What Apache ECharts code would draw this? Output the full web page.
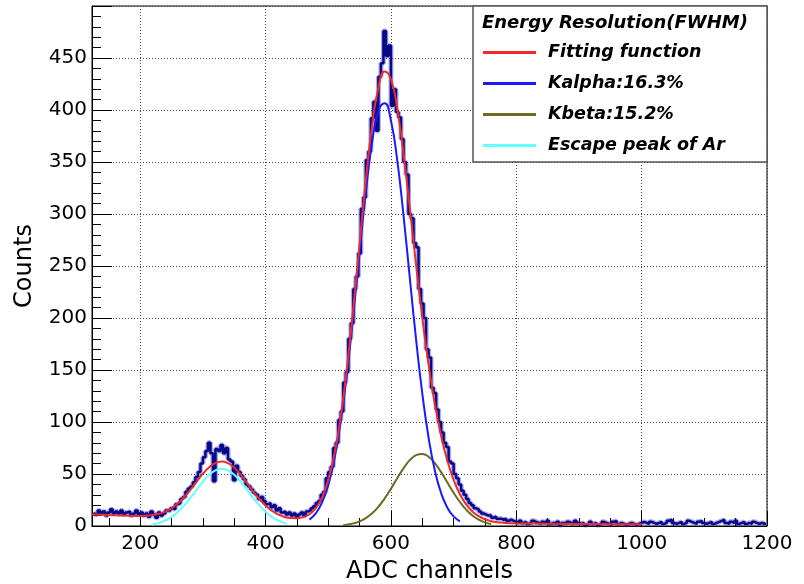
<!DOCTYPE html>
<html><head><meta charset="utf-8">
<script src="https://cdn.jsdelivr.net/npm/echarts@6/dist/echarts.min.js"></script>
<style>html,body{margin:0;padding:0;background:#fff}#c{width:804px;height:584px}</style>
</head><body><div id="c"></div>
<script>
// ---- axis ranges / tick settings ----
const xMin = 123, xMax = 1200, xMajorStep = 200, xMinorStep = 50;
const yMin = 0, yMax = 500, yMajorStep = 50;

// ---- histogram (ADC spectrum): first bin centre 126, bin width 4 channels ----
const binStart = 126, binWidth = 4;
const counts = [
  13,11,15,12,14,10,13,16,12,14,
  12,15,11,13,14,10,12,15,11,13,
  10,12,9,14,11,8,13,10,12,15,
  15,17,16,21,22,26,28,33,36,38,
  42,47,52,60,66,72,80,70,43,74,
  72,78,70,75,64,62,44,58,52,48,
  45,40,38,35,32,30,26,28,24,21,
  22,18,20,15,17,13,14,11,13,10,
  12,9,11,13,10,14,15,17,19,22,
  24,30,33,46,52,57,75,80,102,110,
  138,148,180,195,228,240,262,305,316,352,
  360,392,408,380,432,445,476,452,462,404,
  420,398,393,372,350,338,300,296,272,268,
  228,214,200,170,162,133,128,112,100,90,
  80,76,62,60,50,46,40,34,30,26,
  22,20,17,16,14,12,11,10,10,8,
  9,7,7,6,7,5,6,5,
  4,3,5,3,4,2,3,5,4,3,
  2,4,3,5,2,3,2,4,1,3,
  2,4,3,2,5,3,2,3,1,2,
  4,2,3,1,2,4,3,2,1,4,
  5,2,3,2,1,2,3,2,1,2,
  3,4,3,2,4,3,2,3,4,2,
  3,5,6,3,2,3,4,2,3,5,
  4,3,2,4,5,3,2,3,4,2,
  3,4,5,6,3,2,4,3,5,2,
  3,4,2,3,2,4,3,2,3,2,3
];

// ---- total fit function ----
const fitChannels = [123,130,140,150,160,170,180,190,200,210,220,230,240,250,260,270,280,290,300,310,320,330,340,350,360,370,380,390,400,410,420,430,440,450,460,470,480,490,500,510,520,530,540,550,560,570,580,590,600,610,620,630,640,650,660,670,680,690,700,710,720,730,740,750,760,770,780,790,800,850,900,950,1000];
const fitCounts   = [11.1,11.0,10.7,10.5,10.3,10.1,9.9,9.7,9.6,10.0,10.5,11.8,13.9,17.2,21.8,27.9,34.9,42.7,50.3,56.6,60.7,62.1,60.4,56.0,49.4,41.5,33.3,26.0,19.6,14.7,11.1,8.7,7.6,7.5,8.6,11.3,17.2,27.4,44.7,70.0,106.0,153.3,210.0,271.9,333.0,385.4,421.7,436.9,429.5,401.4,357.9,305.9,251.6,200.4,155.1,117.2,86.8,62.7,44.3,30.6,20.8,13.9,9.4,6.5,4.6,3.6,3.1,2.7,2.5,2.2,2.0,1.8,1.6];

// ---- K-alpha component ----
const kaChannels = [470,480,490,500,510,520,530,540,550,560,570,580,590,600,610,620,630,640,650,660,670,680,690,700,710];
const kaCounts   = [6.1,12.1,22.4,39.3,64.9,100.8,147.5,203.1,263.2,321.2,369.1,399.2,406.5,389.7,351.7,298.8,239.0,179.9,127.6,85.1,53.5,31.7,17.6,9.2,4.5];

// ---- K-beta component ----
const kbChannels = [524,530,540,550,560,570,580,590,600,610,620,630,640,650,660,670,680,690,700,710,720,730,740,750,760];
const kbCounts   = [1.0,1.3,2.5,4.4,7.6,12.2,18.5,26.5,35.9,45.9,55.4,63.3,68.1,69.3,66.6,60.4,51.8,41.9,32.0,23.1,15.7,10.1,6.2,3.5,1.9];

// ---- Ar escape peak component ----
const escChannels = [218,220,230,240,250,260,270,280,290,300,310,320,330,340,350,360,370,380,390,400,410,420,430,434];
const escCounts   = [1.3,1.5,3.0,5.3,8.8,13.6,19.8,27.0,35.0,42.8,49.2,53.5,55.0,53.5,49.2,42.8,35.0,27.0,19.8,13.6,8.8,5.3,3.0,2.3];

const legendTitle = 'Energy Resolution(FWHM)';
const names = ['Fitting function','Kalpha:16.3%','Kbeta:15.2%','Escape peak of Ar'];
const xTitle = 'ADC channels', yTitle = 'Counts';

const zip = (xs, ys) => xs.map((x, i) => [x, ys[i]]);
const histData = counts.map((v, i) => [binStart + i * binWidth, v]);

const axisFont = 'DejaVu Sans';
const legFont = 'DejaVu Sans';
const plain = v => String(v);

const chart = echarts.init(document.getElementById('c'), null, {renderer: 'canvas'});
const option = {
  animation: false,
  backgroundColor: '#ffffff',
  grid: {left: 92, right: 37, top: 6, bottom: 58, containLabel: false, outerBoundsMode: 'none',
         show: true, borderColor: '#000', borderWidth: 1, backgroundColor: 'transparent'},
  xAxis: [{
    type: 'value', min: xMin, max: xMax, minInterval: xMajorStep, maxInterval: xMajorStep,
    axisLine: {show: true, onZero: false, lineStyle: {color: '#000', width: 1}},
    axisTick: {show: true, inside: true, length: 15, lineStyle: {color: '#000', width: 1}},
    axisLabel: {showMinLabel: false, formatter: plain, color: '#000', fontFamily: axisFont, fontSize: 20, margin: 8},
    splitLine: {show: true, lineStyle: {color: '#444', type: [1, 2], width: 1}},
    name: xTitle, nameLocation: 'middle', nameGap: 34,
    nameTextStyle: {color: '#000', fontFamily: axisFont, fontSize: 24}
  }, {
    type: 'value', min: xMin, max: xMax, minInterval: xMinorStep, maxInterval: xMinorStep, position: 'bottom',
    axisLine: {show: false}, axisLabel: {show: false}, splitLine: {show: false},
    axisTick: {show: true, inside: true, length: 8, lineStyle: {color: '#000', width: 1}}
  }],
  yAxis: {
    type: 'value', min: yMin, max: yMax, interval: yMajorStep,
    axisLine: {show: true, lineStyle: {color: '#000', width: 1}},
    axisTick: {show: true, inside: true, length: 20, lineStyle: {color: '#000', width: 1}},
    minorTick: {show: true, splitNumber: 5, length: 9, lineStyle: {color: '#000', width: 1}},
    axisLabel: {showMaxLabel: false, formatter: plain, color: '#000', fontFamily: axisFont, fontSize: 20, margin: 5},
    splitLine: {show: true, lineStyle: {color: '#444', type: [1, 2], width: 1}},
    name: yTitle, nameLocation: 'middle', nameGap: 55, nameRotate: 90,
    nameTextStyle: {color: '#000', fontFamily: axisFont, fontSize: 24}
  },
  legend: {
    data: names, orient: 'vertical', left: 483, top: 37, padding: 0, itemGap: 0,
    itemWidth: 53, itemHeight: 3, icon: 'rect', selectedMode: false, z: 10,
    textStyle: {fontFamily: legFont, fontWeight: 'bold', fontStyle: 'italic', fontSize: 17.5, color: '#000', lineHeight: 31, padding: [0, 0, 0, 7]}
  },
  graphic: [
    {type: 'rect', z: 5, shape: {x: 473, y: 6, width: 294, height: 156}, style: {fill: '#fff', stroke: '#555', lineWidth: 1.5}},
    {type: 'text', z: 11, x: 482, y: 23, style: {text: legendTitle, font: 'italic bold 18px "DejaVu Sans"', fill: '#000', verticalAlign: 'middle'}}
  ],
  series: [
    {type: 'line', name: 'halo', data: histData, step: 'middle', symbol: 'none', z: 2,
     lineStyle: {color: 'rgba(50,50,190,0.4)', width: 5}, silent: true},
    {type: 'line', name: 'data', data: histData, step: 'middle', symbol: 'none', z: 2,
     lineStyle: {color: '#08088a', width: 2.5}},
    {type: 'line', name: names[3], data: zip(escChannels, escCounts), smooth: true, symbol: 'none', z: 3,
     itemStyle: {color: '#66ffff'}, lineStyle: {color: '#66ffff', width: 2}},
    {type: 'line', name: names[2], data: zip(kbChannels, kbCounts), smooth: true, symbol: 'none', z: 3,
     itemStyle: {color: '#6b6b22'}, lineStyle: {color: '#6b6b22', width: 2}},
    {type: 'line', name: names[1], data: zip(kaChannels, kaCounts), smooth: true, symbol: 'none', z: 3,
     itemStyle: {color: '#1a1aff'}, lineStyle: {color: '#1a1aff', width: 2}},
    {type: 'line', name: names[0], data: zip(fitChannels, fitCounts), smooth: true, symbol: 'none', z: 4,
     itemStyle: {color: '#ee2a2a'}, lineStyle: {color: '#ee2a2a', width: 2}}
  ]
};
chart.setOption(option);
</script></body></html>
